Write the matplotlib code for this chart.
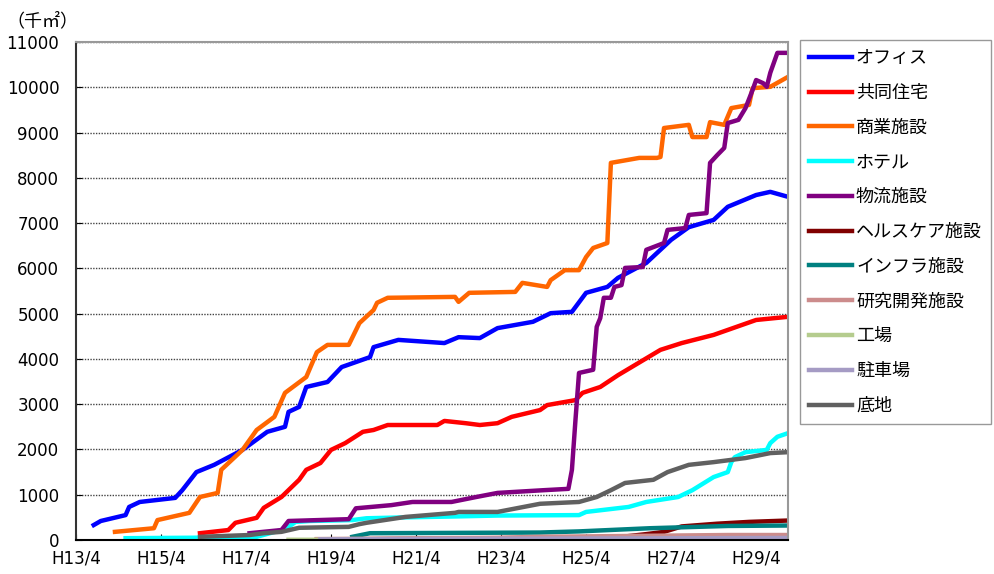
import matplotlib

matplotlib.use("Agg")
import matplotlib.pyplot as plt

# x = months since H13/4, y = 千㎡
office_months = [5, 7, 14, 15, 18, 28, 30, 34, 39, 47, 54, 59, 60, 63, 65, 71, 75, 83, 84, 91,
                 104, 108, 114, 119, 129, 134, 140, 144, 150, 153, 161, 168, 173, 180, 184, 192, 196, 201]
office_values = [330, 420, 550, 730, 840, 930, 1100, 1500, 1660, 1990, 2390, 2500, 2830, 2940, 3380, 3490, 3820, 4040, 4260, 4420,
                 4350, 4480, 4460, 4680, 4820, 5010, 5040, 5460, 5590, 5790, 6120, 6630, 6910, 7070, 7360, 7620, 7690, 7580]

residential_months = [35, 43, 45, 51, 53, 58, 63, 65, 69, 72, 76, 81, 84, 88, 102, 104, 110, 114, 119, 123,
                      131, 133, 141, 143, 148, 153, 165, 171, 180, 184, 192, 201]
residential_values = [150, 220, 380, 490, 710, 950, 1330, 1550, 1700, 1990, 2140, 2390, 2430, 2540, 2540, 2630, 2580, 2540, 2580, 2720,
                      2870, 2980, 3090, 3250, 3380, 3640, 4200, 4350, 4530, 4640, 4860, 4930]

commercial_months = [11, 22, 23, 32, 35, 40, 41, 47, 51, 56, 59, 65, 68, 71, 77, 80, 84, 85, 88, 107,
                     108, 111, 124, 126, 133, 134, 138, 142, 144, 146, 150, 151, 159, 164, 165, 166, 173, 174, 178, 179,
                     183, 185, 190, 191, 196, 201]
commercial_values = [180, 260, 440, 600, 950, 1040, 1550, 1990, 2430, 2720, 3250, 3600, 4150, 4310, 4310, 4790, 5080, 5240, 5350, 5370,
                     5260, 5460, 5480, 5680, 5590, 5740, 5960, 5960, 6250, 6450, 6560, 8330, 8440, 8440, 8460, 9100, 9170, 8900, 8900, 9230,
                     9170, 9540, 9610, 9980, 10010, 10230]

hotel_months = [14, 33, 51, 58, 60, 62, 66, 78, 82, 93, 107, 119, 142, 144, 156, 161, 170, 174, 180, 184,
                185, 186, 189, 195, 196, 198, 201]
hotel_values = [40, 50, 70, 220, 290, 400, 420, 440, 480, 500, 520, 540, 550, 620, 730, 840, 950, 1100, 1390, 1500,
                1720, 1830, 1940, 1990, 2140, 2280, 2360]

logistics_months = [49, 58, 60, 77, 79, 89, 95, 106, 113, 119, 132, 139, 140, 141, 142, 146, 147, 148, 149, 151,
                    152, 154, 155, 160, 161, 166, 167, 172, 173, 178, 179, 181, 183, 184, 187, 189, 191, 192, 194, 195,
                    196, 197, 198, 201]
logistics_values = [150, 220, 420, 460, 700, 770, 840, 840, 950, 1040, 1100, 1130, 1550, 2650, 3690, 3760, 4710, 4900, 5350, 5350,
                    5590, 5630, 6010, 6030, 6410, 6560, 6850, 6890, 7180, 7220, 8330, 8500, 8660, 9210, 9280, 9540, 9940, 10160, 10090, 10010,
                    10320, 10540, 10760, 10760]

healthcare_months = [68, 105, 153, 161, 166, 171, 181, 190, 201]
healthcare_values = [10, 30, 60, 130, 180, 300, 360, 400, 430]

infra_months = [78, 83, 131, 142, 162, 184, 201]
infra_values = [70, 150, 165, 190, 260, 310, 320]

rnd_months = [68, 119, 131, 184, 201]
rnd_values = [20, 50, 70, 110, 110]

factory_months = [60, 201]
factory_values = [5, 15]

parking_months = [69, 131, 201]
parking_values = [15, 30, 45]

land_months = [35, 49, 53, 58, 63, 77, 80, 82, 93, 107, 108, 119, 125, 131, 142, 147, 151, 155, 163, 167,
               173, 180, 189, 196, 201]
land_values = [70, 110, 150, 180, 270, 290, 350, 380, 510, 600, 620, 620, 710, 800, 840, 950, 1100, 1260, 1330, 1500,
               1660, 1720, 1810, 1920, 1940]

labels = ["オフィス", "共同住宅", "商業施設", "ホテル", "物流施設", "ヘルスケア施設",
          "インフラ施設", "研究開発施設", "工場", "駐車場", "底地"]
tick_months = [0, 24, 48, 72, 96, 120, 144, 168, 192]
tick_labels = ["H13/4", "H15/4", "H17/4", "H19/4", "H21/4", "H23/4", "H25/4", "H27/4", "H29/4"]


def main():
    plt.rcParams["font.family"] = ["Noto Sans CJK JP", "DejaVu Sans"]

    series = [
        (office_months, office_values, "#0000FF"),
        (residential_months, residential_values, "#FF0000"),
        (commercial_months, commercial_values, "#FF6600"),
        (hotel_months, hotel_values, "#00FFFF"),
        (logistics_months, logistics_values, "#800080"),
        (healthcare_months, healthcare_values, "#800000"),
        (infra_months, infra_values, "#008080"),
        (rnd_months, rnd_values, "#CC8C8C"),
        (factory_months, factory_values, "#B5CC8E"),
        (parking_months, parking_values, "#A59BC4"),
        (land_months, land_values, "#606060"),
    ]

    fig = plt.figure(figsize=(9.95, 5.74), dpi=100)
    ax = fig.add_axes([76 / 995, 1 - 540 / 574, (788 - 76) / 995, (540 - 42) / 574])

    for (months, values, color), label in zip(series, labels):
        ax.plot(months, values, color=color, linewidth=3.2, label=label)

    ax.set_xlim(0, 201)
    ax.set_ylim(0, 11000)
    ax.set_yticks(range(0, 11001, 1000))
    ax.set_xticks(tick_months)
    ax.set_xticklabels(tick_labels)

    for lbl in ax.get_xticklabels() + ax.get_yticklabels():
        lbl.set_family("DejaVu Sans")
        lbl.set_fontsize(12)

    ax.tick_params(axis="both", direction="in", length=4, colors="#000000")
    ax.tick_params(axis="y", pad=12)
    ax.tick_params(axis="x", pad=7)

    ax.grid(axis="y", linestyle=(0, (1, 1)), linewidth=1.0, color="#444444")
    ax.set_axisbelow(True)

    ax.spines["top"].set_color("#999999")
    ax.spines["right"].set_color("#999999")
    ax.spines["left"].set_color("#333333")
    ax.spines["bottom"].set_color("#000000")
    for side in ax.spines:
        ax.spines[side].set_linewidth(1.5)

    fig.text(6 / 995, 1 - 21 / 574, "（千㎡）", fontsize=13, va="center", ha="left")

    legend = fig.legend(
        loc="upper left",
        bbox_to_anchor=(800 / 995, 1 - 40 / 574),
        fontsize=13,
        frameon=True,
        fancybox=False,
        edgecolor="#808080",
        facecolor="#ffffff",
        handlelength=2.4,
        handletextpad=0.2,
        labelspacing=0.93,
        borderpad=0.5,
        borderaxespad=0,
    )
    legend.get_frame().set_linewidth(1.0)

    fig.savefig("out.png", dpi=100)


if __name__ == "__main__":
    main()
